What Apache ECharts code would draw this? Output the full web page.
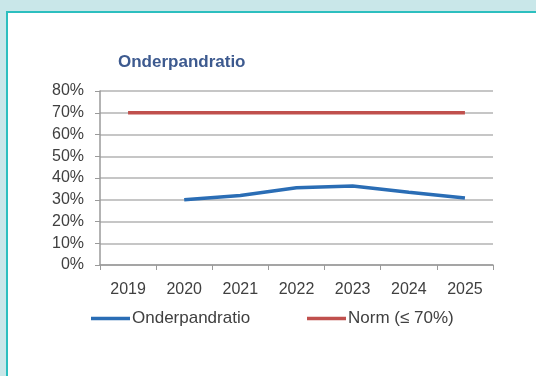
<!DOCTYPE html>
<html>
<head>
<meta charset="utf-8">
<script src="https://cdn.jsdelivr.net/npm/echarts@6/dist/echarts.min.js"></script>
<style>
  html, body { margin: 0; padding: 0; background: #c9e7e9; }
  .frame {
    position: absolute; left: 6px; top: 11px; width: 530px; height: 365px;
    background: #fff; border-left: 2px solid #2cbfbf; border-top: 2px solid #2cbfbf;
    box-sizing: border-box;
  }
  #main { position: absolute; left: 0; top: 0; width: 536px; height: 376px; }
</style>
</head>
<body>
<div class="frame"></div>
<div id="main"></div>
<script>
// data
var years = ['2019', '2020', '2021', '2022', '2023', '2024', '2025'];
var ratio = [null, 0.30, 0.32, 0.355, 0.363, 0.335, 0.308];
var norm = [0.70, 0.70, 0.70, 0.70, 0.70, 0.70, 0.70];

var chart = echarts.init(document.getElementById('main'));
var fontFam = 'Liberation Sans, Arial, sans-serif';

var option = {
  animation: false,
  backgroundColor: 'transparent',
  title: {
    text: 'Onderpandratio',
    left: 113,
    top: 49,
    textStyle: { color: '#3d5a8f', fontSize: 17, fontWeight: 'bold', fontFamily: fontFam }
  },
  legend: [
    {
      data: ['Onderpandratio'],
      left: 86, top: 305,
      icon: 'rect',
      itemWidth: 39, itemHeight: 3.5, itemGap: 0,
      textStyle: { color: '#404040', fontSize: 17, fontFamily: fontFam, padding: [0, 0, 0, -3] }
    },
    {
      data: ['Norm (≤ 70%)'],
      left: 302, top: 305,
      icon: 'rect',
      itemWidth: 39, itemHeight: 3.5, itemGap: 0,
      textStyle: { color: '#404040', fontSize: 17, fontFamily: fontFam, padding: [0, 0, 0, -3] }
    }
  ],
  grid: { left: 100, right: 43, top: 91, bottom: 111 },
  xAxis: {
    type: 'category',
    data: years,
    boundaryGap: true,
    axisLine: { lineStyle: { color: '#9a9a9a', width: 1.5 } },
    axisTick: { show: true, interval: 0, length: 5, lineStyle: { color: '#9a9a9a' } },
    axisLabel: { color: '#404040', fontSize: 16, fontFamily: fontFam, margin: 17, interval: 0 }
  },
  yAxis: {
    type: 'value',
    min: 0, max: 0.8, interval: 0.1,
    axisLine: { show: true, lineStyle: { color: '#9a9a9a', width: 1.5 } },
    axisTick: { show: true, length: 5, lineStyle: { color: '#9a9a9a' } },
    axisLabel: {
      color: '#404040', fontSize: 16, fontFamily: fontFam, margin: 16,
      formatter: function (v) { return Math.round(v * 100) + '%'; }
    },
    splitLine: { lineStyle: { color: '#b3b3b3', width: 1.5 } }
  },
  series: [
    {
      name: 'Onderpandratio',
      type: 'line',
      data: ratio,
      symbol: 'none',
      lineStyle: { color: '#2a6db5', width: 3.5 },
      itemStyle: { color: '#2a6db5' },
      z: 3
    },
    {
      name: 'Norm (≤ 70%)',
      type: 'line',
      data: norm,
      symbol: 'none',
      lineStyle: { color: '#c0504d', width: 3.5 },
      itemStyle: { color: '#c0504d' },
      z: 2
    }
  ]
};

option && chart.setOption(option);
</script>
</body>
</html>
